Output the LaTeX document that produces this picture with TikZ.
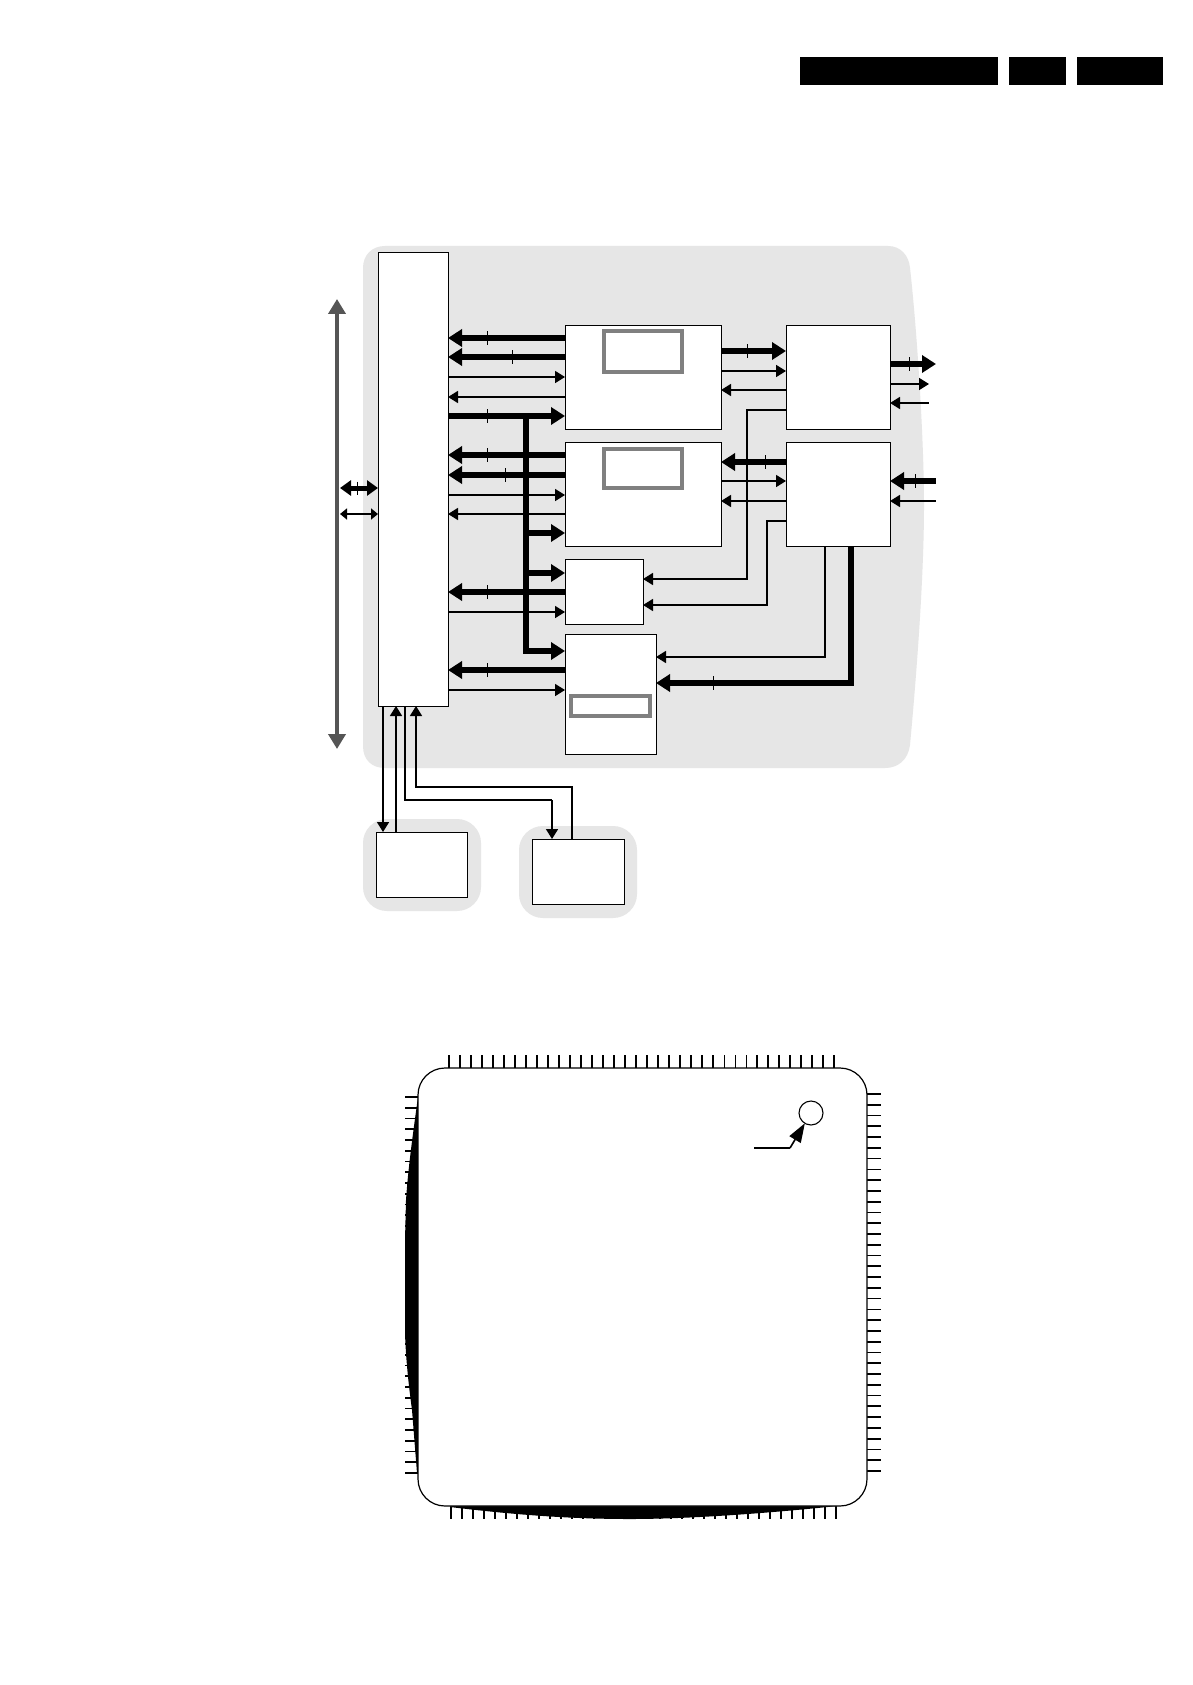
\documentclass[tikz,border=0pt]{standalone}
\usetikzlibrary{arrows.meta,calc}
\definecolor{panel}{HTML}{E6E6E6}
\definecolor{frame}{HTML}{808080}
\definecolor{sysbus}{HTML}{555555}
\tikzset{
  box/.style={draw=black,fill=white,line width=1pt,inner sep=0pt,outer sep=0pt},
  memframe/.style={draw=frame,fill=white,line width=4pt,inner sep=0pt,outer sep=0pt},
  headbar/.style={fill=black,draw=none,inner sep=0pt,outer sep=0pt},
  halo/.style={fill=panel,draw=none,rounded corners=24pt,inner sep=0pt,outer sep=0pt},
  thickR/.style={line width=5.5pt,-{Triangle[length=14pt,width=17pt]}},
  thickL/.style={line width=5.5pt,{Triangle[length=14pt,width=17pt]}-},
  thinR/.style={line width=1.6pt,-{Triangle[length=10pt,width=12pt]}},
  thinL/.style={line width=1.6pt,{Triangle[length=10pt,width=12pt]}-},
  wire/.style={line width=1.6pt},
  tick/.style={line width=.6pt},
  pin/.style={line width=1.7pt},
  pinfine/.style={line width=.7pt}
}
\begin{document}
\begin{tikzpicture}[x=1pt,y=-1pt]
\useasboundingbox (0,0) rectangle (1192,1685);
\fill[white] (0,0) rectangle (1192,1685);
% header bars
\node[headbar,minimum width=198pt,minimum height=28pt] (hdA) at (899,71) {};
\node[headbar,minimum width=57pt,minimum height=28pt] (hdB) at (1037.5,71) {};
\node[headbar,minimum width=86pt,minimum height=28pt] (hdC) at (1120,71) {};
% grey panels
\fill[panel] (385,246) -- (888,246) .. controls (901,246) and (909,256) .. (910,268)
  .. controls (917,330) and (924,440) .. (924,505)
  .. controls (924,580) and (916,680) .. (910,745)
  .. controls (908,760) and (898,768) .. (885,768)
  -- (385,768) .. controls (372,768) and (363,760) .. (363,746)
  -- (363,268) .. controls (363,255) and (372,246) .. (385,246) -- cycle;
\node[halo,minimum width=118pt,minimum height=92pt] (haloA) at (422,865) {};
\node[halo,minimum width=118pt,minimum height=92pt] (haloB) at (578,872) {};
% blocks
\node[box,minimum width=70pt,minimum height=453pt] (bus) at (413,479.5) {};
\node[box,minimum width=156pt,minimum height=104pt] (boxA) at (643,377) {};
\node[memframe,minimum width=78pt,minimum height=41pt] (memA) at (642.5,351) {};
\node[box,minimum width=156pt,minimum height=104pt] (boxB) at (643,494) {};
\node[memframe,minimum width=78pt,minimum height=39pt] (memB) at (642.5,468) {};
\node[box,minimum width=104pt,minimum height=104pt] (boxE) at (838,377) {};
\node[box,minimum width=104pt,minimum height=104pt] (boxF) at (838,494) {};
\node[box,minimum width=78pt,minimum height=65pt] (boxC) at (604,591.5) {};
\node[box,minimum width=91pt,minimum height=120pt] (boxD) at (610.5,694) {};
\node[memframe,minimum width=79pt,minimum height=20pt] (memD) at (610.5,706) {};
\node[box,minimum width=91pt,minimum height=65pt] (ramA) at (421.5,864.5) {};
\node[box,minimum width=92pt,minimum height=65pt] (ramB) at (578,871.5) {};
% system bus
\coordinate (sysT) at (337,299);
\coordinate (sysB) at (337,749);
\draw[sysbus,line width=4.7pt,{Triangle[length=15pt,width=17pt]}-{Triangle[length=15pt,width=17pt]}] (sysT) -- (sysB);
\draw[line width=5pt,{Triangle[length=11pt,width=15pt]}-{Triangle[length=11pt,width=15pt]}] ([xshift=3pt]sysT |- 0,488) -- (bus.west |- 0,488);
\draw[tick] (357,481.5) -- (357,494.5);
\draw[line width=1.6pt,{Triangle[length=7pt,width=11pt]}-{Triangle[length=7pt,width=11pt]}] ([xshift=3pt]sysT |- 0,514) -- (bus.west |- 0,514);
% bus <-> box A
\draw[thickL] (bus.east |- 0,338) -- (boxA.west |- 0,338);
\draw[tick] (487,331) -- (487,345);
\draw[thickL] (bus.east |- 0,357) -- (boxA.west |- 0,357);
\draw[tick] (512,350) -- (512,364);
\draw[thinR] (bus.east |- 0,377) -- (boxA.west |- 0,377);
\draw[thinL] (bus.east |- 0,397) -- (boxA.west |- 0,397);
\draw[thickR] (bus.east |- 0,416) -- (boxA.west |- 0,416);
\draw[tick] (487,409) -- (487,423);
% bus <-> box B
\draw[thickL] (bus.east |- 0,455) -- (boxB.west |- 0,455);
\draw[tick] (487,448) -- (487,462);
\draw[thickL] (bus.east |- 0,475) -- (boxB.west |- 0,475);
\draw[tick] (505,468) -- (505,482);
\draw[thinR] (bus.east |- 0,495) -- (boxB.west |- 0,495);
\draw[thinL] (bus.east |- 0,514) -- (boxB.west |- 0,514);
% address trunk
\coordinate (trunk) at (526,416);
\draw[line width=5.5pt,-{Triangle[length=14pt,width=17pt]}] (trunk) -- (trunk |- 0,651) -- (boxD.west |- 0,651);
\draw[thickR] (trunk |- 0,533) -- (boxB.west |- 0,533);
\draw[thickR] (trunk |- 0,573) -- (boxC.west |- 0,573);
% bus <-> box C, D
\draw[thickL] (bus.east |- 0,592) -- (boxC.west |- 0,592);
\draw[tick] (487,585) -- (487,599);
\draw[thinR] (bus.east |- 0,612) -- (boxC.west |- 0,612);
\draw[thickL] (bus.east |- 0,670) -- (boxD.west |- 0,670);
\draw[tick] (487,663) -- (487,677);
\draw[thinR] (bus.east |- 0,690) -- (boxD.west |- 0,690);
% box A <-> E, box B <-> F
\draw[thickR] (boxA.east |- 0,351) -- (boxE.west |- 0,351);
\draw[tick] (747,344) -- (747,358);
\draw[thinR] (boxA.east |- 0,371) -- (boxE.west |- 0,371);
\draw[thinL] (boxA.east |- 0,390) -- (boxE.west |- 0,390);
\draw[thickL] (boxB.east |- 0,462) -- (boxF.west |- 0,462);
\draw[tick] (765,455) -- (765,469);
\draw[thinR] (boxB.east |- 0,481) -- (boxF.west |- 0,481);
\draw[thinL] (boxB.east |- 0,501) -- (boxF.west |- 0,501);
% E, F -> C
\draw[thinR] (boxE.west |- 0,410) -- (747,410) -- (747,579) -- (boxC.east |- 0,579);
\draw[thinR] (boxF.west |- 0,521) -- (767,521) -- (767,605) -- (boxC.east |- 0,605);
% F -> D
\draw[thinR] (825,0 |- boxF.south) -- (825,657) -- (boxD.east |- 0,657);
\draw[thickR] (851,0 |- boxF.south) -- (851,683) -- (boxD.east |- 0,683);
\draw[tick] (713,676) -- (713,690);
% outer right
\coordinate (outE) at (929,384);
\coordinate (outEb) at (936,364);
\coordinate (outF) at (936,481);
\draw[thickR] (boxE.east |- 0,364) -- (outEb);
\draw[tick] (909,357) -- (909,371);
\draw[thinR] (boxE.east |- 0,384) -- (outE);
\draw[thinL] (boxE.east |- 0,403) -- (outE |- 0,403);
\draw[thickL] (boxF.east |- 0,481) -- (outF);
\draw[tick] (915,474) -- (915,488);
\draw[thinL] (boxF.east |- 0,501) -- (outF |- 0,501);
% bus <-> RAM
\draw[thinR] (383,0 |- bus.south) -- (383,0 |- ramA.north);
\draw[thinL] (396,0 |- bus.south) -- (396,0 |- ramA.north);
\draw[wire] (405,0 |- bus.south) -- (405,800) -- (552,800);
\draw[thinR] (552,800) -- (552,0 |- ramB.north);
\draw[thinL] (416,0 |- bus.south) -- (416,787) -- (572,787) -- (572,0 |- ramB.north);
% QFP wedges
\fill[black] (418,1097) .. controls (412,1140) and (408,1170) .. (406,1200)
  -- (405,1240) -- (405,1333) .. controls (406,1365) and (410,1395) .. (412,1410)
  -- (417,1473) -- (420,1473) -- (420,1097) -- cycle;
\fill[black] (450,1504) -- (450,1507) .. controls (500,1513) and (560,1519) .. (630,1519)
  .. controls (700,1519) and (790,1511) .. (837,1506) -- (837,1504) -- cycle;
% QFP pins
\foreach \k in {0,...,35}{
  \pgfmathsetmacro\px{449+11*\k}
  \ifnum\k>24 \ifnum\k<28
    \draw[pinfine] (\px,1055) -- (\px,1068);
  \else
    \draw[pin] (\px,1055) -- (\px,1068);
  \fi\else
    \draw[pin] (\px,1055) -- (\px,1068);
  \fi
  \pgfmathsetmacro\qx{451+11*\k}
  \draw[pin] (\qx,1506) -- (\qx,1519);
  \pgfmathsetmacro\ly{1097+10.74*\k}
  \draw[pin] (405,\ly) -- (418,\ly);
  \pgfmathsetmacro\ry{1094+10.77*\k}
  \draw[pin] (867,\ry) -- (881,\ry);
}
% QFP body
\node[draw=black,fill=white,line width=1.2pt,rounded corners=27pt,inner sep=0pt,outer sep=0pt,minimum width=449pt,minimum height=438pt] (chip) at (642.5,1287) {};
\node[draw=black,fill=white,circle,line width=1.1pt,inner sep=0pt,outer sep=0pt,minimum size=24pt] (pinone) at (811,1113) {};
\coordinate (leadstart) at (754,1148);
\coordinate (leadelbow) at (790,1148);
\draw[wire] (leadstart) -- (leadelbow);
\draw[line width=1.6pt,-{Triangle[length=19pt,width=13pt]}] (leadelbow) -- (pinone);
\end{tikzpicture}
\end{document}
